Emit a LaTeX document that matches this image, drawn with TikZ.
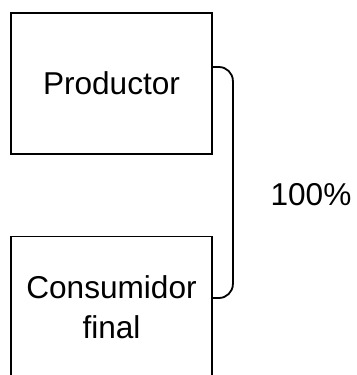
\documentclass[tikz,border=0pt]{standalone}
\usepackage{fontspec}
\setmainfont{Liberation Sans}
\begin{document}
\begin{tikzpicture}[x=0.5pt,y=-0.5pt,
    font=\fontsize{15.8pt}{20pt}\selectfont,
    box/.style={draw,line width=0.9pt,minimum width=100.5pt,minimum height=70.5pt,inner sep=0pt,align=center}]
  \useasboundingbox (0,0) rectangle (357,375);
  \draw
    (111.5,83.5) node[box] (prod){Productor}
    (111.5,307) node[box] (cons){Consumidor\\final}
    (311,195) node (pct){100\%};
  \begin{scope}[line width=0.9pt,rounded corners=7pt]
    \draw ([yshift=8.25pt]prod.east) -- ++(10pt,0) |- ([yshift=4.5pt]cons.east);
  \end{scope}
\end{tikzpicture}
\end{document}
